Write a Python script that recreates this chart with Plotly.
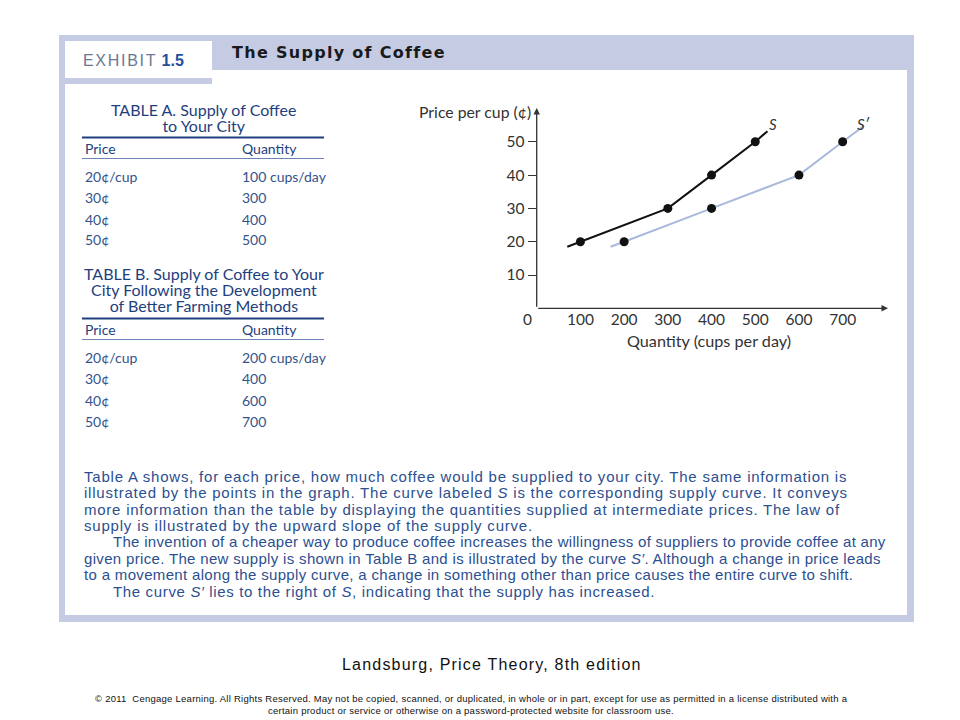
import plotly.graph_objects as go

# the page body margin is removed by a post script, so the figure fills 960x720
OFF = 0
W, H = 960, 720

# ---------------- data ----------------
price_a = [20, 30, 40, 50]
qty_a = [100, 300, 400, 500]
price_b = [20, 30, 40, 50]
qty_b = [200, 400, 600, 700]

# drawn supply curves (extend a little beyond the table points)
s_curve_q = [70, 100, 300, 400, 500, 528]
s_curve_p = [18.5, 20, 30, 40, 50, 53.2]
s2_curve_q = [169, 200, 400, 600, 700, 749]
s2_curve_p = [18.5, 20, 30, 40, 50, 54.8]

x_ticks = [100, 200, 300, 400, 500, 600, 700]
y_ticks = [10, 20, 30, 40, 50]

table_a_title = ["TABLE A. Supply of Coffee", "to Your City"]
table_a_prices = ["20¢/cup", "30¢", "40¢", "50¢"]
table_a_qty = ["100 cups/day", "300", "400", "500"]
table_b_title = ["TABLE B. Supply of Coffee to Your", "City Following the Development", "of Better Farming Methods"]
table_b_prices = ["20¢/cup", "30¢", "40¢", "50¢"]
table_b_qty = ["200 cups/day", "400", "600", "700"]

paragraph = [
    ("Table A shows, for each price, how much coffee would be supplied to your city. The same information is", 0, 0.78),
    ("illustrated by the points in the graph. The curve labeled <i>S</i> is the corresponding supply curve. It conveys", 0, 0.78),
    ("more information than the table by displaying the quantities supplied at intermediate prices. The law of", 0, 0.76),
    ("supply is illustrated by the upward slope of the supply curve.", 0, 0.8),
    ("The invention of a cheaper way to produce coffee increases the willingness of suppliers to provide coffee at any", 1, 0.3),
    ("given price. The new supply is shown in Table B and is illustrated by the curve <i>S′</i>. Although a change in price leads", 0, 0.33),
    ("to a movement along the supply curve, a change in something other than price causes the entire curve to shift.", 0, 0.33),
    ("The curve <i>S′</i> lies to the right of <i>S</i>, indicating that the supply has increased.", 1, 0.65),
]

# ---------------- styles ----------------
FRAME = "#c4cbe3"
TBL_TITLE = "#1f3f7e"
TBL_TEXT = "#34538c"
PARA = "#2c4f90"
CHART_FONT = "Lato"
PARA_FONT = "Liberation Sans"


def px(x):
    return (x - OFF) / W


def py(y):
    return 1 - (y - OFF) / H


# axis geometry (reference pixels)
X0, X1 = 536.7, 888.0
Y0, Y1 = 308.3, 108.0
QPX = 0.4371   # px per cup
PPX = 3.33     # px per cent
xmax = (X1 - X0) / QPX
ymax = (Y0 - Y1) / PPX

fig = go.Figure()

fig.add_trace(go.Scatter(x=s_curve_q, y=s_curve_p, mode="lines",
                         line=dict(color="#111111", width=2), hoverinfo="skip"))
fig.add_trace(go.Scatter(x=s2_curve_q, y=s2_curve_p, mode="lines",
                         line=dict(color="#a9b9dc", width=2), hoverinfo="skip"))
fig.add_trace(go.Scatter(x=qty_a, y=price_a, mode="markers",
                         marker=dict(color="#111111", size=9)))
fig.add_trace(go.Scatter(x=qty_b, y=price_b, mode="markers",
                         marker=dict(color="#111111", size=9)))

shapes = []


def rect(x0, y0, x1, y1, color):
    shapes.append(dict(type="rect", xref="paper", yref="paper",
                       x0=px(x0), x1=px(x1), y0=py(y1), y1=py(y0),
                       fillcolor=color, line=dict(width=0), layer="below"))


def hline(x0, x1, y, color, width):
    shapes.append(dict(type="line", xref="paper", yref="paper",
                       x0=px(x0), x1=px(x1), y0=py(y), y1=py(y),
                       line=dict(color=color, width=width), layer="below"))


# frame
rect(59, 35, 914, 622, FRAME)
rect(65, 70, 907, 615, "white")
rect(65, 78, 212, 84, FRAME)
rect(65, 41, 212, 78, "white")

annotations = []


def text(x, y, s, size, color, family, xanchor="left", bold=False, ls=None):
    if bold:
        s = "<b>" + s + "</b>"
    if ls:
        s = "<span style='letter-spacing:%.2fpx'>%s</span>" % (ls, s)
    annotations.append(dict(xref="paper", yref="paper", x=px(x), y=py(y),
                            text=s, showarrow=False, xanchor=xanchor,
                            yanchor="middle",
                            font=dict(size=size, color=color, family=family)))


def title_block(x, y_center, lines, glyph_size, line_gap):
    # base font sets the (tight) line spacing, the span sets the glyph size
    base = line_gap / 1.3
    s = "<br>".join("<span style='font-size:%.1fpx'>%s</span>" % (glyph_size, l) for l in lines)
    annotations.append(dict(xref="paper", yref="paper", x=px(x), y=py(y_center),
                            text=s, showarrow=False, xanchor="center", yanchor="middle",
                            align="center",
                            font=dict(size=base, color=TBL_TITLE, family=CHART_FONT)))


# header
text(81, 60, "<span style='color:#6b7894;letter-spacing:1.7px'>EXHIBIT</span> <b><span style='color:#1f4f9e'>1.5</span></b>",
     16, "#6b7894", PARA_FONT)
text(230, 53, "The Supply of Coffee", 16, "#1a1a1a", "DejaVu Sans", bold=True, ls=1.3)

# Table A
title_block(203, 117.5, table_a_title, 16, 16)
hline(82, 324, 137.5, TBL_TITLE, 2)
text(83, 149, "Price", 14, TBL_TITLE, CHART_FONT)
text(240, 149, "Quantity", 14, TBL_TITLE, CHART_FONT)
hline(82, 324, 158.5, "#6d83b3", 1)
rows_a_y = [176.5, 197.5, 219, 240]
for yy, p, q in zip(rows_a_y, table_a_prices, table_a_qty):
    text(83, yy, p, 14, TBL_TEXT, CHART_FONT)
    text(240, yy, q, 14, TBL_TEXT, CHART_FONT)

# Table B
title_block(204, 289.5, table_b_title, 16, 16)
hline(82, 324, 318.5, TBL_TITLE, 2)
text(83, 330, "Price", 14, TBL_TITLE, CHART_FONT)
text(240, 330, "Quantity", 14, TBL_TITLE, CHART_FONT)
hline(82, 324, 339.5, "#6d83b3", 1)
rows_b_y = [357, 378, 400, 421]
for yy, p, q in zip(rows_b_y, table_b_prices, table_b_qty):
    text(83, yy, p, 14, TBL_TEXT, CHART_FONT)
    text(240, yy, q, 14, TBL_TEXT, CHART_FONT)

# paragraph
para_y = [476, 492.5, 509, 525, 541.5, 558, 574.5, 591]
for yy, (line, indent, ls) in zip(para_y, paragraph):
    text(82 + 29 * indent, yy, line, 15, PARA, PARA_FONT, ls=ls)

# footer
text(492, 664, "Landsburg, Price Theory, 8th edition", 16, "#111111", PARA_FONT, "center", ls=1.2)
text(471, 698, "© 2011  Cengage Learning. All Rights Reserved. May not be copied, scanned, or duplicated, in whole or in part, except for use as permitted in a license distributed with a",
     9.5, "#111111", PARA_FONT, "center", ls=0.25)
text(471, 710, "certain product or service or otherwise on a password-protected website for classroom use.",
     9.5, "#111111", PARA_FONT, "center", ls=0.25)

# chart labels
text(475, 111, "Price per cup (¢)", 15.8, "#333333", CHART_FONT, "center")
text(709, 340, "Quantity (cups per day)", 16.2, "#333333", CHART_FONT, "center")
text(527, 319, "0", 15.5, "#333333", CHART_FONT, "center")
text(773, 124, "<i>S</i>", 15, "#333333", CHART_FONT, "center")
text(863, 124, "<i>S′</i>", 15, "#333333", CHART_FONT, "center")

# axis arrows (data coords)
annotations.append(dict(x=xmax, y=0, ax=0, ay=0, xref="x", yref="y", axref="x", ayref="y",
                        showarrow=True, arrowhead=2, arrowsize=1, arrowwidth=1.3,
                        arrowcolor="#333333", text=""))
annotations.append(dict(x=0, y=ymax, ax=0, ay=0, xref="x", yref="y", axref="x", ayref="y",
                        showarrow=True, arrowhead=2, arrowsize=1, arrowwidth=1.3,
                        arrowcolor="#333333", text=""))

fig.update_layout(
    width=W, height=H, margin=dict(l=0, r=0, t=0, b=0),
    paper_bgcolor="white", plot_bgcolor="rgba(0,0,0,0)",
    showlegend=False, shapes=shapes, annotations=annotations,
    xaxis=dict(domain=[px(X0), px(X1)], range=[0, xmax], tickvals=x_ticks,
               showgrid=False, zeroline=False, showline=False, ticks="",
               tickfont=dict(family=CHART_FONT, size=15.5, color="#333333"),
               fixedrange=True),
    yaxis=dict(domain=[py(Y0), py(Y1)], range=[0, ymax], tickvals=y_ticks,
               showgrid=False, zeroline=False, showline=False, ticks="outside",
               ticklen=8, tickwidth=1.2, tickcolor="#333333",
               tickfont=dict(family=CHART_FONT, size=15.5, color="#333333"),
               fixedrange=True),
)

fig.write_html("out.html", config={"displayModeBar": False},
               post_script="document.body.style.margin='0';document.body.style.overflow='hidden';")
